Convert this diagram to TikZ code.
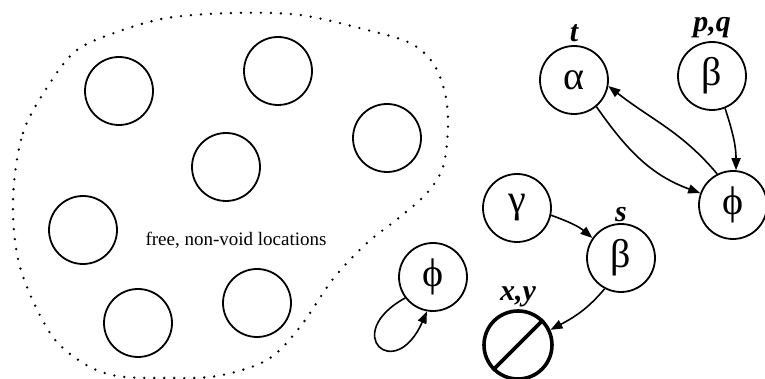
\documentclass[tikz,border=0pt]{standalone}
\usepackage{fontspec}
\setmainfont{Liberation Serif}
\usetikzlibrary{arrows.meta, positioning}

\begin{document}
\begin{tikzpicture}[
    x=1pt, y=1pt,
    loc/.style={draw, circle, line width=1.8pt, minimum size=68pt,
                inner sep=0pt, font=\fontsize{40}{40}\selectfont},
    voidloc/.style={loc, line width=3.6pt},
    lbl/.style={font=\fontsize{30}{30}\selectfont\bfseries\itshape,
                inner sep=1pt},
    region/.style={line width=2.6pt, dash pattern=on 0pt off 10pt,
                   line cap=round},
    >={Triangle[length=12pt,width=9pt]}, line width=1.6pt
  ]
  \useasboundingbox (0,0) rectangle (765,379);

  % free region
  \draw[region] plot[smooth cycle, tension=0.55] coordinates {
    (13,179) (23,246) (50,296) (77,329) (117,347) (167,361) (233,366)
    (300,364) (367,349) (410,336) (433,316) (445,286) (448,252)
    (443,212) (427,186) (400,162) (367,136) (333,100) (300,52)
    (267,19) (217,3) (167,1) (117,3) (83,16) (50,46) (20,112)};

  \node[loc] (loc1) at (119,288) {};
  \node[loc] (loc2) at (278,308) {};
  \node[loc] (loc3) at (226,212) {};
  \node[loc] (loc4) at (387,241) {};
  \node[loc] (loc5) at (83,149) {};
  \node[loc] (loc6) at (138,56) {};
  \node[loc] (loc7) at (257,76) {};
  \node[font=\fontsize{19}{19}\selectfont] (freetxt) at (236,139)
    {free, non-void locations};

  \node[loc] (alpha) at (574,299) {α};
  \node[loc] (betaT) at (712,303) {β};
  \node[loc] (phiR) at (733,174) {ϕ};
  \node[loc] (gamma) at (517,171) {γ};
  \node[loc] (betaS) at (621,121) {β};
  \node[loc] (phiL) at (433,102) {ϕ};
  \node[voidloc] (null) at (518,34) {};
  \draw[line width=3.6pt] (null.225) -- (null.45);

  \node[lbl, above=1pt of alpha] (tlab) {t};
  \node[lbl, above=1pt of betaT] (pqlab) {p,q};
  \node[lbl, above=0pt of betaS] (slab) {s};
  \node[lbl, above=0pt of null] (xylab) {x,y};

  \draw[->] (alpha.-50) to[out=-55,in=160] (phiR.160);
  \draw[->] (phiR.117) to[out=130,in=-38] (alpha.-10);
  \draw[->] (betaT.-68) to[out=-72,in=90] (phiR.85);
  \draw[->] (gamma.-12) to[out=-20,in=140] (betaS.145);
  \draw[->] (betaS.-118) to[out=-130,in=28] (null.25);
  \draw[->] (phiL.-143) .. controls (340,45) and (395,-5) .. (phiL.-100);
\end{tikzpicture}
\end{document}
